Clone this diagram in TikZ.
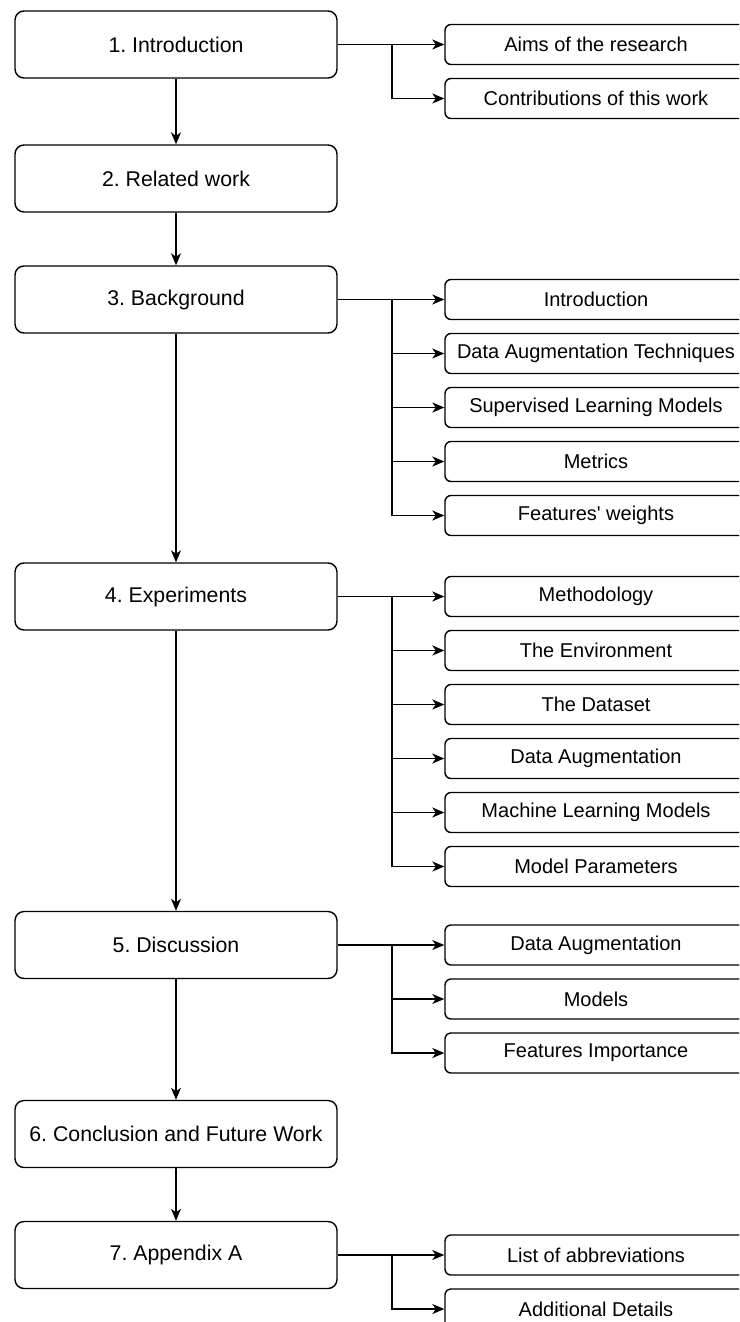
\documentclass[tikz,border=0pt]{standalone}
\usepackage{fontspec}
\setmainfont{Liberation Sans}
\usetikzlibrary{arrows.meta}
\frenchspacing
\begin{document}
\begin{tikzpicture}[x=1pt,y=-1pt,
  mainbox/.style={draw, line width=1.4pt, rounded corners=9pt, minimum width=322pt, minimum height=67pt, inner sep=0pt, font=\fontsize{21.3}{25}\selectfont},
  subbox/.style={draw, line width=1.4pt, rounded corners=6pt, minimum width=302pt, minimum height=40pt, inner sep=0pt, font=\fontsize{20}{24}\selectfont},
  conn/.style={line width=1.4pt, -{Stealth[length=12pt,width=10pt,inset=3.5pt]}}]
\useasboundingbox (0,0) rectangle (739,1322);
\clip (0,0) rectangle (739,1322);
% main boxes
\node[mainbox] (m1) at (176,44.5) {1. Introduction};
\node[mainbox] (m2) at (176,178.5) {2. Related work};
\node[mainbox] (m3) at (176,299.5) {3. Background};
\node[mainbox] (m4) at (176,596.5) {4. Experiments};
\node[mainbox] (m5) at (176,945) {5. Discussion};
\node[mainbox] (m6) at (176,1134) {6. Conclusion and Future Work};
\node[mainbox] (m7) at (176,1255) {7. Appendix A};
\foreach \a/\b in {m1/m2,m2/m3,m3/m4,m4/m5,m5/m6,m6/m7}
  \draw[conn] (\a.south) -- (\b.north);
% sub boxes
\node[subbox] (s11) at (596,44.5) {Aims of the research};
\node[subbox] (s12) at (596,98.5) {Contributions of this work};
\node[subbox] (s31) at (596,299.5) {Introduction};
\node[subbox] (s32) at (596,353.5) {Data Augmentation Techniques};
\node[subbox] (s33) at (596,407.5) {Supervised Learning Models};
\node[subbox] (s34) at (596,461.5) {Metrics};
\node[subbox] (s35) at (596,515.5) {Features\textquotesingle{} weights};
\node[subbox] (s41) at (596,596.5) {Methodology};
\node[subbox] (s42) at (596,650.5) {The Environment};
\node[subbox] (s43) at (596,704.5) {The Dataset};
\node[subbox] (s44) at (596,758.5) {Data Augmentation};
\node[subbox] (s45) at (596,812.5) {Machine Learning Models};
\node[subbox] (s46) at (596,866.5) {Model Parameters};
\node[subbox] (s51) at (596,945) {Data Augmentation};
\node[subbox] (s52) at (596,999) {Models};
\node[subbox] (s53) at (596,1053) {Features Importance};
\node[subbox] (s71) at (596,1255) {List of abbreviations};
\node[subbox] (s72) at (596,1309) {Additional Details};
% branch points
\coordinate (b1) at (392,44.5);
\coordinate (b3) at (392,299.5);
\coordinate (b4) at (392,596.5);
\coordinate (b5) at (392,945);
\coordinate (b7) at (392,1255);
% connectors
\draw[conn] (m1.east) -- (s11.west);
\draw[conn] (b1) |- (s12.west);
\draw[conn] (m3.east) -- (s31.west);
\foreach \k in {2,3,4,5} \draw[conn] (b3) |- (s3\k.west);
\draw[conn] (m4.east) -- (s41.west);
\foreach \k in {2,3,4,5,6} \draw[conn] (b4) |- (s4\k.west);
\draw[conn] (m5.east) -- (s51.west);
\foreach \k in {2,3} \draw[conn] (b5) |- (s5\k.west);
\draw[conn] (m7.east) -- (s71.west);
\draw[conn] (b7) |- (s72.west);
\end{tikzpicture}
\end{document}
